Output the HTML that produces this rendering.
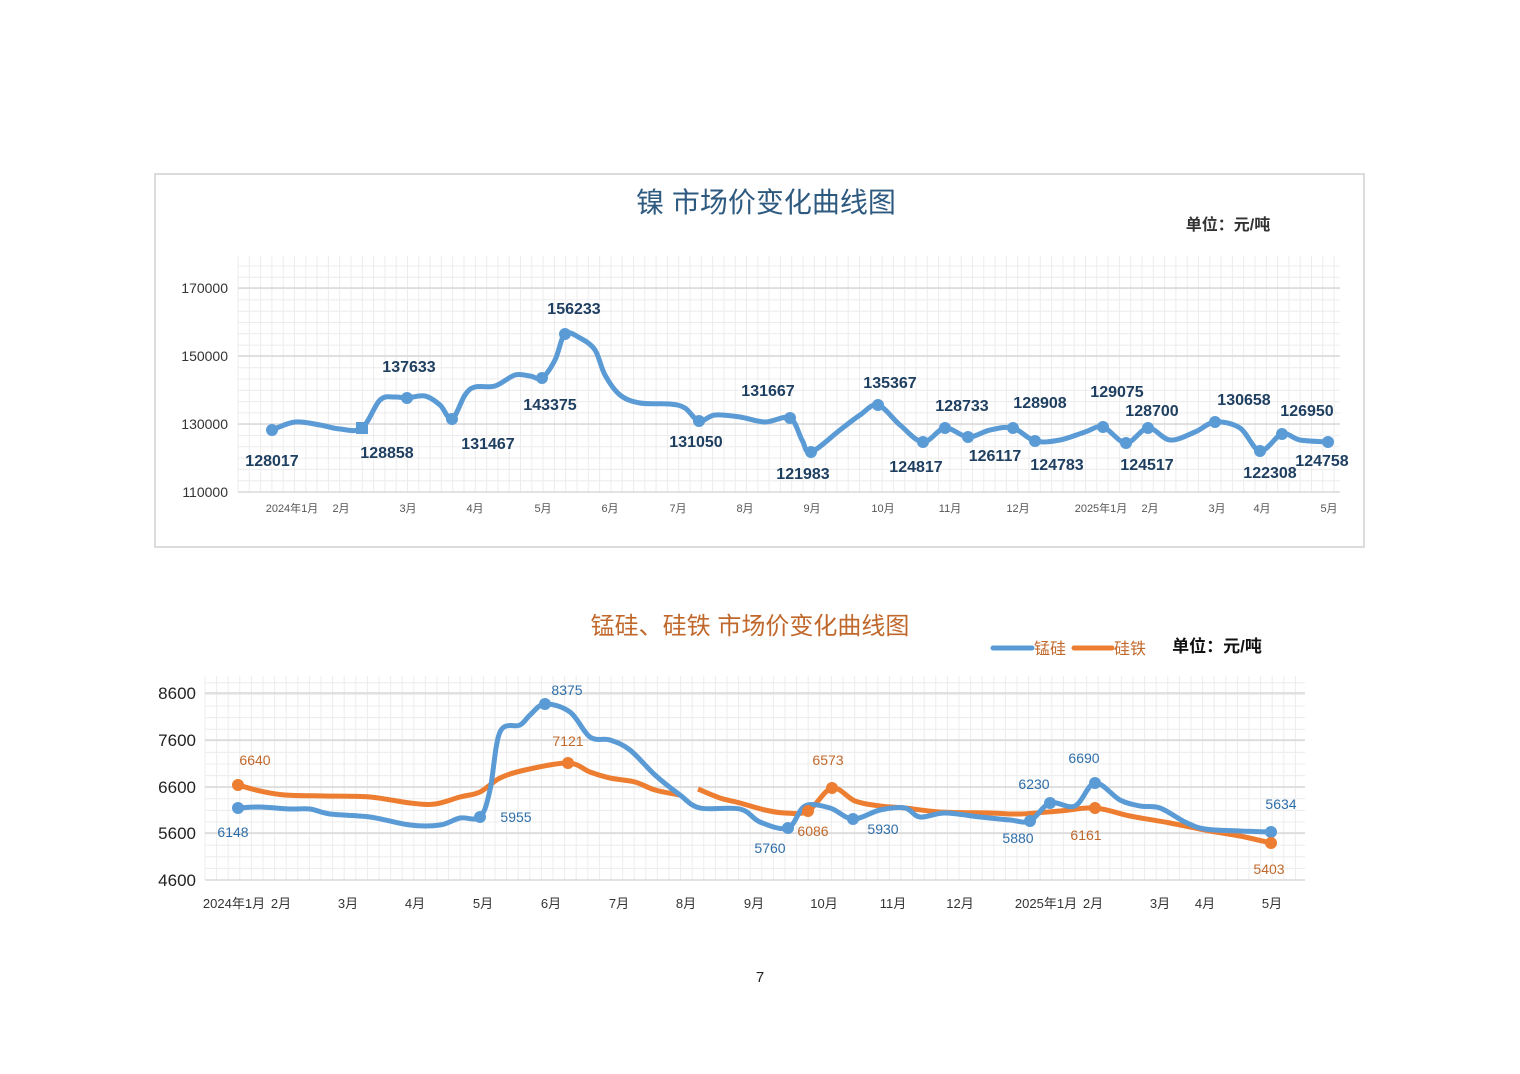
<!DOCTYPE html>
<html><head><meta charset="utf-8">
<style>
html,body{margin:0;padding:0;background:#fff;}
svg{display:block;}
text{font-family:"Liberation Sans","Noto Sans CJK SC",sans-serif;}
</style></head>
<body>
<svg id="s" width="1520" height="1074" viewBox="0 0 1520 1074" xmlns="http://www.w3.org/2000/svg">
<rect x="155" y="174" width="1209" height="373" fill="#fff" stroke="#dcdcdc" stroke-width="2"/>
<g id="g1"></g>
<g id="g2"></g>
<text x="766" y="212" font-size="28" fill="#2f5a80" text-anchor="middle">镍  市场价变化曲线图</text>
<text x="1228" y="230" font-size="16" fill="#333" text-anchor="middle" font-weight="bold">单位：元/吨</text>
<g font-size="14" fill="#333" text-anchor="end">
<text x="228" y="293">170000</text><text x="228" y="361">150000</text><text x="228" y="429">130000</text><text x="228" y="497">110000</text>
</g>
<g font-size="11" fill="#555" text-anchor="middle" id="xl1"></g>
<g font-size="16" fill="#1f3f60" font-weight="bold" text-anchor="middle">
<text x="272" y="466">128017</text><text x="387" y="458">128858</text><text x="409" y="372">137633</text><text x="488" y="449">131467</text>
<text x="550" y="410">143375</text><text x="574" y="314">156233</text><text x="696" y="447">131050</text><text x="768" y="396">131667</text>
<text x="803" y="479">121983</text><text x="890" y="388">135367</text><text x="916" y="472">124817</text><text x="962" y="411">128733</text>
<text x="995" y="461">126117</text><text x="1040" y="408">128908</text><text x="1057" y="470">124783</text><text x="1117" y="397">129075</text>
<text x="1147" y="470">124517</text><text x="1152" y="416">128700</text><text x="1244" y="405">130658</text><text x="1270" y="478">122308</text>
<text x="1307" y="416">126950</text><text x="1322" y="466">124758</text>
</g>
<text x="750" y="634" font-size="24" fill="#c0682b" text-anchor="middle">锰硅、硅铁 市场价变化曲线图</text>
<line x1="993" y1="648" x2="1032" y2="648" stroke="#5b9bd5" stroke-width="5" stroke-linecap="round"/>
<text x="1034" y="654" font-size="16" fill="#c0682b">锰硅</text>
<line x1="1074" y1="648" x2="1112" y2="648" stroke="#ed7d31" stroke-width="5" stroke-linecap="round"/>
<text x="1114" y="654" font-size="16" fill="#c0682b">硅铁</text>
<text x="1217" y="652" font-size="17" fill="#111" font-weight="bold" text-anchor="middle">单位：元/吨</text>
<g font-size="17" fill="#222" text-anchor="end">
<text x="196" y="699">8600</text><text x="196" y="746">7600</text><text x="196" y="793">6600</text><text x="196" y="839">5600</text><text x="196" y="886">4600</text>
</g>
<g font-size="13" fill="#333" text-anchor="middle" id="xl2"></g>
<g font-size="14" text-anchor="middle">
<g fill="#2e6ea8"><text x="233" y="837">6148</text><text x="516" y="822">5955</text><text x="567" y="695">8375</text><text x="770" y="853">5760</text>
<text x="883" y="834">5930</text><text x="1018" y="843">5880</text><text x="1034" y="789">6230</text><text x="1084" y="763">6690</text><text x="1281" y="809">5634</text></g>
<g fill="#c0682b"><text x="255" y="765">6640</text><text x="568" y="746">7121</text><text x="813" y="836">6086</text><text x="828" y="765">6573</text>
<text x="1086" y="840">6161</text><text x="1269" y="874">5403</text></g>
</g>
<text x="760" y="982" font-size="15" fill="#222" text-anchor="middle">7</text>
</svg>
<script>
var NS="http://www.w3.org/2000/svg";
function el(p,t,a){var e=document.createElementNS(NS,t);for(var k in a)e.setAttribute(k,a[k]);p.appendChild(e);return e;}
function grid(g,x0,x1,y0,y1,step,majors){
 for(var x=x0;x<=x1;x+=step)el(g,"line",{x1:x,x2:x,y1:y0,y2:y1,stroke:"#ececec","stroke-width":1});
 for(var y=y1;y>=y0;y-=step)el(g,"line",{x1:x0,x2:x1,y1:y,y2:y,stroke:"#ececec","stroke-width":1});
 majors.forEach(function(y){el(g,"line",{x1:x0,x2:x1,y1:y,y2:y,stroke:"#d8d8d8","stroke-width":1.5});});
}
function smooth(pts){var d="M"+pts[0][0]+","+pts[0][1];
 for(var i=0;i<pts.length-1;i++){var p0=pts[i-1]||pts[i],p1=pts[i],p2=pts[i+1],p3=pts[i+2]||p2;
 var c1=[p1[0]+(p2[0]-p0[0])/6,p1[1]+(p2[1]-p0[1])/6],c2=[p2[0]-(p3[0]-p1[0])/6,p2[1]-(p3[1]-p1[1])/6];
 d+=" C"+c1+" "+c2+" "+p2;}return d;}
var g1=document.getElementById("g1"),g2=document.getElementById("g2");
grid(g1,238,1340,256,492,11.3,[288,356,424,492]);
grid(g2,205,1305,676,880,11.6,[693,740,787,833,880]);
function lbl(id,arr,y){var g=document.getElementById(id);arr.forEach(function(a){var t=el(g,"text",{x:a[0],y:y});t.textContent=a[1];});}
lbl("xl1",[[292,"2024年1月"],[341,"2月"],[408,"3月"],[475,"4月"],[543,"5月"],[610,"6月"],[678,"7月"],[745,"8月"],[812,"9月"],[883,"10月"],[950,"11月"],[1018,"12月"],[1101,"2025年1月"],[1150,"2月"],[1217,"3月"],[1262,"4月"],[1329,"5月"]],512);
lbl("xl2",[[234,"2024年1月"],[281,"2月"],[348,"3月"],[415,"4月"],[483,"5月"],[551,"6月"],[619,"7月"],[686,"8月"],[754,"9月"],[824,"10月"],[893,"11月"],[960,"12月"],[1046,"2025年1月"],[1093,"2月"],[1160,"3月"],[1205,"4月"],[1272,"5月"]],908);
var n=[[272,430],[295,422],[320,425],[340,429],[362,428],[380,400],[395,397],[407,398],[425,396],[440,405],[452,419],[465,395],[475,387],[495,386],[515,375],[530,376],[542,378],[555,360],[565,334],[580,338],[595,350],[605,375],[620,395],[640,403],[670,404],[685,408],[699,421],[715,415],[740,417],[765,422],[790,418],[802,440],[811,452],[840,430],[860,415],[878,405],[900,425],[923,442],[945,428],[968,437],[990,430],[1013,428],[1035,441],[1060,440],[1085,432],[1103,427],[1126,443],[1148,428],[1170,440],[1195,432],[1215,422],[1240,428],[1260,451],[1282,434],[1300,440],[1328,442]];
el(g1,"path",{d:smooth(n),fill:"none",stroke:"#5b9bd5","stroke-width":5,"stroke-linejoin":"round"});
[[272,430],[407,398],[452,419],[542,378],[565,334],[699,421],[790,418],[811,452],[878,405],[923,442],[945,428],[968,437],[1013,428],[1035,441],[1103,427],[1126,443],[1148,428],[1215,422],[1260,451],[1282,434],[1328,442]].forEach(function(p){el(g1,"circle",{cx:p[0],cy:p[1],r:6,fill:"#5b9bd5"});});
el(g1,"rect",{x:356,y:422,width:12,height:12,fill:"#5b9bd5"});
var b=[[238,808],[260,807],[290,809],[310,809],[330,814],[370,817],[410,825],[440,825],[460,818],[480,817],[490,790],[500,732],[520,725],[530,715],[545,704],[570,712],[590,737],[610,740],[630,750],[655,775],[680,795],[700,808],[740,809],[760,822],[788,828],[805,806],[830,808],[853,819],[880,810],[905,808],[920,817],[945,813],[980,817],[1010,820],[1030,821],[1050,803],[1075,806],[1095,783],[1120,800],[1140,806],[1160,808],[1185,822],[1205,829],[1240,831],[1271,832]];
var o1=[[238,785],[260,791],[285,795],[325,796],[370,797],[410,803],[435,804],[460,797],[480,792],[500,778],[525,770],[568,763],[590,772],[610,778],[635,782],[655,790],[680,795]];
var o2=[[698,789],[720,798],[740,803],[765,810],[785,813],[808,811],[832,788],[855,801],[880,806],[905,808],[940,812],[990,813],[1020,814],[1060,811],[1095,808],[1130,816],[1170,823],[1210,831],[1240,836],[1271,843]];
el(g2,"path",{d:smooth(o1),fill:"none",stroke:"#ed7d31","stroke-width":5});
el(g2,"path",{d:smooth(o2),fill:"none",stroke:"#ed7d31","stroke-width":5});
el(g2,"path",{d:smooth(b),fill:"none",stroke:"#5b9bd5","stroke-width":5});
[[238,808],[480,817],[545,704],[788,828],[853,819],[1030,821],[1050,803],[1095,783],[1271,832]].forEach(function(p){el(g2,"circle",{cx:p[0],cy:p[1],r:6,fill:"#5b9bd5"});});
[[238,785],[568,763],[808,811],[832,788],[1095,808],[1271,843]].forEach(function(p){el(g2,"circle",{cx:p[0],cy:p[1],r:6,fill:"#ed7d31"});});
</script>
</body></html>
